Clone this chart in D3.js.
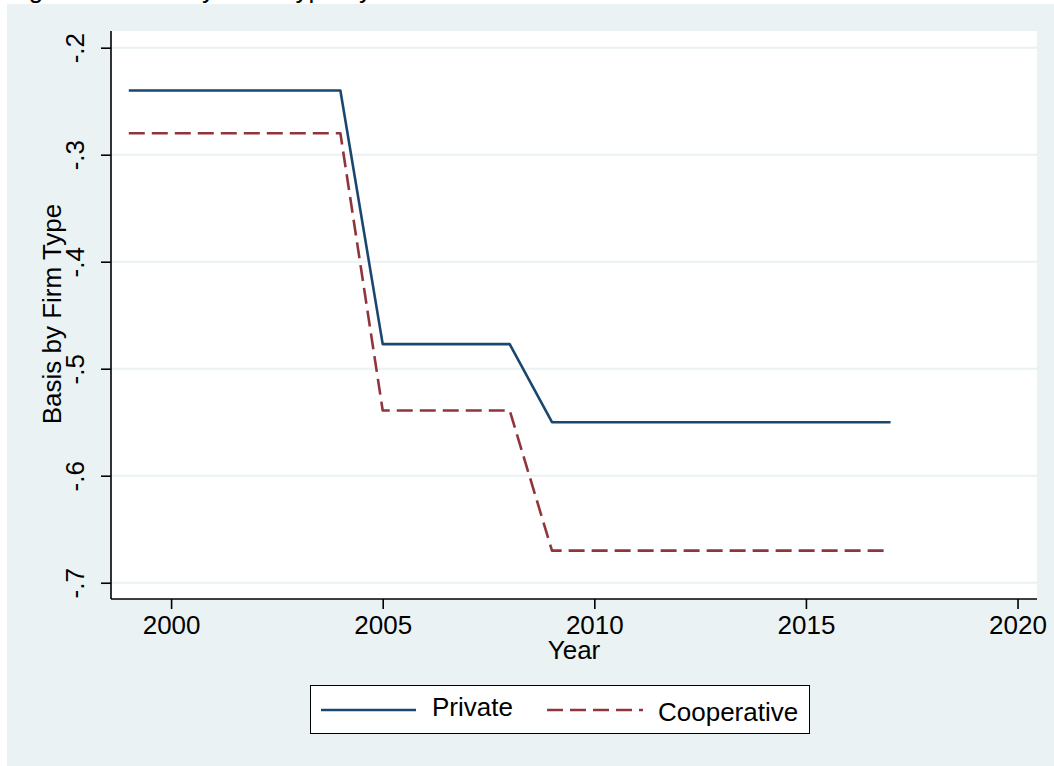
<!DOCTYPE html>
<html>
<head>
<meta charset="utf-8">
<script src="https://cdn.jsdelivr.net/npm/d3@7"></script>
<style>
  html, body { margin: 0; padding: 0; background: #ffffff; }
  svg { display: block; }
  text { font-family: "Liberation Sans", Arial, sans-serif; fill: #000; }
</style>
</head>
<body>
<svg id="chart" width="1054" height="766"></svg>
<script>
// ---- data ----
const years = [1999, 2000, 2001, 2002, 2003, 2004, 2005, 2006, 2007, 2008, 2009, 2010, 2011, 2012, 2013, 2014, 2015, 2016, 2017];
const privateBasis = [-0.240, -0.240, -0.240, -0.240, -0.240, -0.240, -0.477, -0.477, -0.477, -0.477, -0.550, -0.550, -0.550, -0.550, -0.550, -0.550, -0.550, -0.550, -0.550];
const cooperativeBasis = [-0.280, -0.280, -0.280, -0.280, -0.280, -0.280, -0.539, -0.539, -0.539, -0.539, -0.670, -0.670, -0.670, -0.670, -0.670, -0.670, -0.670, -0.670, -0.670];
const xTicks = [2000, 2005, 2010, 2015, 2020];
const yTicks = [-0.2, -0.3, -0.4, -0.5, -0.6, -0.7];
const yTickLabels = ["-.2", "-.3", "-.4", "-.5", "-.6", "-.7"];
const seriesNames = ["Private", "Cooperative"];
const titleText = "Figure 2: Basis by Firm Type by Year";

// ---- layout ----
const svg = d3.select("#chart");
const W = 1054, H = 766;
const plot = { left: 111, right: 1037, top: 31, bottom: 599 };
const navy = "#1a476f", maroon = "#90353b", bg = "#eaf2f3";
const fs = 26;

// title (cut off at top edge)
svg.append("text").attr("x", 7).attr("y", -2).attr("font-size", fs).text(titleText);

// graph region
svg.append("rect").attr("x", 7).attr("y", 4).attr("width", W - 7).attr("height", H - 4).attr("fill", bg);
// plot region
svg.append("rect").attr("x", plot.left).attr("y", plot.top)
  .attr("width", plot.right - plot.left).attr("height", plot.bottom - plot.top).attr("fill", "#ffffff");

const x = d3.scaleLinear().domain([1998.58, 2020.46]).range([plot.left, plot.right]);
const y = d3.scaleLinear().domain([-0.7152, -0.1844]).range([plot.bottom, plot.top]);

// gridlines
svg.append("g").selectAll("line").data(yTicks).join("line")
  .attr("x1", plot.left).attr("x2", plot.right)
  .attr("y1", d => y(d)).attr("y2", d => y(d))
  .attr("stroke", bg).attr("stroke-width", 2);

// lines
const lineGen = d3.line().x((d, i) => x(years[i])).y(d => y(d));
svg.append("path").datum(cooperativeBasis).attr("d", lineGen)
  .attr("fill", "none").attr("stroke", maroon).attr("stroke-width", 2.6)
  .attr("stroke-dasharray", "16,7").attr("stroke-linejoin", "round");
svg.append("path").datum(privateBasis).attr("d", lineGen)
  .attr("fill", "none").attr("stroke", navy).attr("stroke-width", 2.6)
  .attr("stroke-linejoin", "round");

// y axis
const yAxis = d3.axisLeft(y).tickValues(yTicks).tickSize(10).tickFormat((d, i) => yTickLabels[i]);
const gy = svg.append("g").attr("transform", `translate(${plot.left},0)`).call(yAxis);
gy.select(".domain").attr("stroke", "#000").attr("stroke-width", 1.6).attr("d", `M0,${plot.top}V${plot.bottom}`);
gy.selectAll(".tick line").attr("stroke", "#000").attr("stroke-width", 1.6);
gy.selectAll(".tick text")
  .attr("font-size", fs).attr("font-family", "Liberation Sans, Arial, sans-serif").attr("fill", "#000")
  .attr("x", 0).attr("dy", null).attr("text-anchor", "middle")
  .attr("transform", "translate(-27,0) rotate(-90)")
  .attr("y", 0);

// x axis
const xAxis = d3.axisBottom(x).tickValues(xTicks).tickSize(10).tickFormat(d3.format("d"));
const gx = svg.append("g").attr("transform", `translate(0,${plot.bottom})`).call(xAxis);
gx.select(".domain").attr("stroke", "#000").attr("stroke-width", 1.6).attr("d", `M${plot.left},0H${plot.right}`);
gx.selectAll(".tick line").attr("stroke", "#000").attr("stroke-width", 1.6);
gx.selectAll(".tick text")
  .attr("font-size", fs).attr("font-family", "Liberation Sans, Arial, sans-serif").attr("fill", "#000")
  .attr("y", 35).attr("dy", null);

// axis titles
svg.append("text").attr("x", (plot.left + plot.right) / 2).attr("y", 659)
  .attr("text-anchor", "middle").attr("font-size", fs).text("Year");
svg.append("text").attr("transform", `translate(61,${314}) rotate(-90)`)
  .attr("text-anchor", "middle").attr("font-size", fs).text("Basis by Firm Type");

// legend
const lg = svg.append("g");
lg.append("rect").attr("x", 310.5).attr("y", 685.5).attr("width", 499).attr("height", 48)
  .attr("fill", "#fff").attr("stroke", "#000").attr("stroke-width", 1);
const legendItems = [
  { name: seriesNames[0], color: navy, dash: null, x1: 321, x2: 416, tx: 432, ty: 716 },
  { name: seriesNames[1], color: maroon, dash: "16,7", x1: 547, x2: 643, tx: 658, ty: 721 }
];
legendItems.forEach(it => {
  lg.append("line").attr("x1", it.x1).attr("x2", it.x2).attr("y1", 710).attr("y2", 710)
    .attr("stroke", it.color).attr("stroke-width", 2.6).attr("stroke-dasharray", it.dash);
  lg.append("text").attr("x", it.tx).attr("y", it.ty).attr("font-size", fs).text(it.name);
});
</script>
</body>
</html>
